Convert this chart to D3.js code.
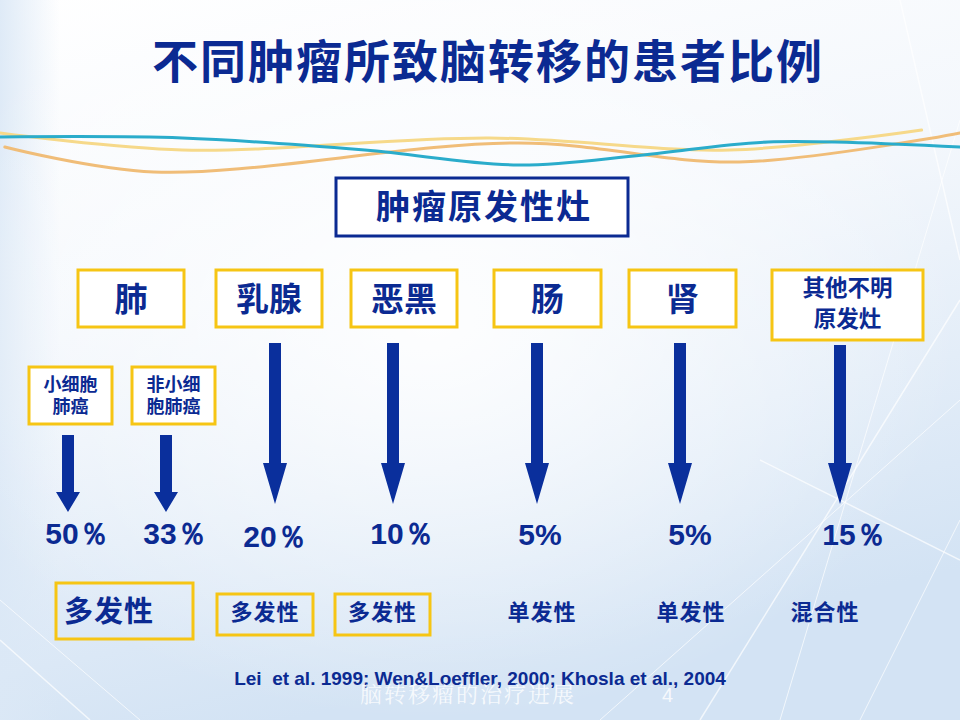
<!DOCTYPE html>
<html>
<head>
<meta charset="utf-8">
<script src="https://cdn.jsdelivr.net/npm/d3@7"></script>
<style>
  html, body { margin: 0; padding: 0; background: #fff; }
  svg { display: block; }
</style>
</head>
<body>
<div id="host"><svg><defs></defs></svg></div>
<script>
const WIDTH = 960;
const HEIGHT = 720;

const NAVY = "#0b2a92";
const ARROW = "#0a2f9c";
const YELLOW = "#f6c514";
const CJK = "'Noto Sans CJK SC', 'Noto Sans', sans-serif";
const LATIN = "'Liberation Sans', Arial, sans-serif";

// chart content
const TITLE = "不同肿瘤所致脑转移的患者比例";
const ROOT = "肿瘤原发性灶";
const SITES = ["肺", "乳腺", "恶黑", "肠", "肾", "其他不明\n原发灶"];
const LUNG_TYPES = ["小细胞\n肺癌", "非小细\n胞肺癌"];
const GROUPS = ["小细胞肺癌", "非小细胞肺癌", "乳腺", "恶黑", "肠", "肾", "其他"];
const PERCENTS = ["50％", "33％", "20％", "10％", "5%", "5%", "15％"];
const PATTERNS = ["多发性", "多发性", "多发性", "单发性", "单发性", "混合性"];
const PATTERN_BOXED = [true, true, true, false, false, false];
const CITATION = "Lei  et al. 1999; Wen&Loeffler, 2000; Khosla et al., 2004";
const FOOTER = "脑转移瘤的治疗进展";
const PAGE = "4";

// layout scales
const siteX = d3.scaleOrdinal().domain(SITES).range([78, 216, 351, 494, 629, 772]);
const siteW = d3.scaleOrdinal().domain(SITES).range([106, 106, 106, 107, 107, 151]);
const lungX = d3.scaleOrdinal().domain(LUNG_TYPES).range([29, 132]);
const arrowX = d3.scaleOrdinal().domain(GROUPS).range([68, 166, 275, 393, 537, 680, 840]);
const arrowTop = d3.scaleOrdinal().domain(GROUPS).range([435, 435, 343, 343, 343, 343, 345]);
const pctX = d3.scaleOrdinal().domain(GROUPS).range([77, 175, 275, 402, 540, 690, 854]);
const pctY = d3.scaleOrdinal().domain(GROUPS).range([544, 544, 547, 544, 545, 545, 545]);
const patX = d3.scaleOrdinal().domain(d3.range(PATTERNS.length)).range([56, 217, 335, 542, 691, 825]);
const patW = d3.scaleOrdinal().domain(d3.range(PATTERNS.length)).range([137, 96, 95, 0, 0, 0]);

// decorative ribbons (relative control points)
const waveX = d3.scaleLinear().domain([0, 1]).range([0, WIDTH]);
const waveY = d3.scaleLinear().domain([0, 1]).range([125, 175]);
const TEAL_WAVE = [[0, 0.24], [0.19, 0.26], [0.38, 0.5], [0.54, 0.8], [0.67, 0.6], [0.8, 0.34], [1, 0.44]];
const GOLD_WAVE = [[0, 0.16], [0.19, 0.5], [0.51, 0.26], [0.76, 0.5], [0.96, 0.1]];
const ORANGE_WAVE = [[0.005, 0.44], [0.16, 0.94], [0.54, 0.36], [0.77, 0.74], [1, 0.16]];

function setupSvg() {
  const svg = d3.select("#host svg").attr("width", WIDTH).attr("height", HEIGHT);
  const defs = svg.select("defs");

  const bg = defs.append("linearGradient").attr("id", "bg")
    .attr("x1", "0%").attr("y1", "0%").attr("x2", "30%").attr("y2", "100%");
  bg.append("stop").attr("offset", "0%").attr("stop-color", "#ffffff");
  bg.append("stop").attr("offset", "45%").attr("stop-color", "#f3f7fc");
  bg.append("stop").attr("offset", "100%").attr("stop-color", "#d3e3f4");

  const glow = defs.append("radialGradient").attr("id", "glow")
    .attr("cx", "45%").attr("cy", "45%").attr("r", "55%");
  glow.append("stop").attr("offset", "0%").attr("stop-color", "#ffffff").attr("stop-opacity", 0.9);
  glow.append("stop").attr("offset", "100%").attr("stop-color", "#ffffff").attr("stop-opacity", 0);

  const side = defs.append("linearGradient").attr("id", "side")
    .attr("x1", "0%").attr("y1", "0%").attr("x2", "100%").attr("y2", "0%");
  side.append("stop").attr("offset", "0%").attr("stop-color", "#dbe8f6").attr("stop-opacity", 0.9);
  side.append("stop").attr("offset", "100%").attr("stop-color", "#dbe8f6").attr("stop-opacity", 0);

  svg.append("rect").attr("width", WIDTH).attr("height", HEIGHT).attr("fill", "url(#bg)");
  svg.append("rect").attr("width", 60).attr("height", HEIGHT).attr("fill", "url(#side)");
  svg.append("rect").attr("width", WIDTH).attr("height", HEIGHT).attr("fill", "url(#glow)");

  // faint network lines on the right
  const net = svg.append("g").attr("stroke", "#ffffff").attr("stroke-opacity", 0.7).attr("fill", "none");
  const NET = [[[900, 0], [960, 260]], [[960, 120], [780, 720]], [[960, 300], [700, 720]],
               [[860, 720], [960, 520]], [[760, 460], [960, 560]], [[960, 400], [600, 720]],
               [[0, 640], [90, 720]], [[0, 600], [140, 720]]];
  net.selectAll("line").data(NET).join("line")
    .attr("x1", (d) => d[0][0]).attr("y1", (d) => d[0][1])
    .attr("x2", (d) => d[1][0]).attr("y2", (d) => d[1][1])
    .attr("stroke-width", (d, i) => (i % 2 ? 1 : 1.5));
  return svg;
}

function drawWaves(svg) {
  const line = d3.line().x((d) => waveX(d[0])).y((d) => waveY(d[1])).curve(d3.curveCatmullRom);
  const g = svg.append("g").attr("fill", "none").attr("stroke-linecap", "round");
  g.append("path").attr("d", line(GOLD_WAVE)).attr("stroke", "#f6d98a").attr("stroke-width", 3);
  g.append("path").attr("d", line(ORANGE_WAVE)).attr("stroke", "#f0bd78").attr("stroke-width", 3);
  g.append("path").attr("d", line(TEAL_WAVE)).attr("stroke", "#2aaccb").attr("stroke-width", 3);
}

function multiText(sel, text, x, y, lineH) {
  const lines = text.split("\n");
  const t = sel.append("text").attr("x", x).attr("text-anchor", "middle");
  lines.forEach((s, i) => {
    t.append("tspan").attr("x", x).attr("y", y + (i - (lines.length - 1) / 2) * lineH).text(s);
  });
  return t;
}

function draw(svg) {
  svg.append("text")
    .attr("x", 488).attr("y", 78)
    .attr("text-anchor", "middle")
    .attr("font-family", CJK).attr("font-weight", 700).attr("font-size", 46)
    .attr("letter-spacing", 2)
    .attr("fill", NAVY)
    .text(TITLE);

  drawWaves(svg);

  // root box
  svg.append("rect").attr("x", 336).attr("y", 178).attr("width", 292).attr("height", 58)
    .attr("fill", "#fff").attr("stroke", NAVY).attr("stroke-width", 3);
  svg.append("text").attr("x", 484).attr("y", 219).attr("text-anchor", "middle")
    .attr("font-family", CJK).attr("font-weight", 700).attr("font-size", 34)
    .attr("letter-spacing", 2).attr("fill", NAVY).text(ROOT);

  // site boxes
  const sites = svg.append("g").selectAll("g").data(SITES).join("g");
  sites.append("rect")
    .attr("x", (d) => siteX(d)).attr("y", 270)
    .attr("width", (d) => siteW(d))
    .attr("height", (d) => (d.includes("\n") ? 70 : 57))
    .attr("fill", "#fff").attr("stroke", YELLOW).attr("stroke-width", 3);
  sites.each(function (d) {
    const cx = siteX(d) + siteW(d) / 2;
    const multi = d.includes("\n");
    multiText(d3.select(this), d, cx, 311, 31)
      .attr("font-family", CJK).attr("font-weight", 700)
      .attr("font-size", multi ? 22.5 : 33).attr("fill", NAVY);
  });

  // lung subtypes
  const lung = svg.append("g").selectAll("g").data(LUNG_TYPES).join("g");
  lung.append("rect")
    .attr("x", (d) => lungX(d)).attr("y", 367).attr("width", 83).attr("height", 57)
    .attr("fill", "#fff").attr("stroke", YELLOW).attr("stroke-width", 3);
  lung.each(function (d) {
    multiText(d3.select(this), d, lungX(d) + 41.5, 402, 22)
      .attr("font-family", CJK).attr("font-weight", 700)
      .attr("font-size", 18).attr("fill", NAVY);
  });

  // arrows
  const HEAD_BASE = 463, TIP = 504, SHORT_BASE = 492, SHORT_TIP = 512;
  svg.append("g").selectAll("path").data(GROUPS).join("path")
    .attr("d", (d, i) => {
      const x = arrowX(d), top = arrowTop(d);
      const base = i < 2 ? SHORT_BASE : HEAD_BASE;
      const tip = i < 2 ? SHORT_TIP : TIP;
      const sw = 6, hw = 12;
      return `M${x - sw},${top}L${x + sw},${top}L${x + sw},${base}L${x + hw},${base}` +
        `L${x},${tip}L${x - hw},${base}L${x - sw},${base}Z`;
    })
    .attr("fill", ARROW);

  // percentages
  svg.append("g").selectAll("text").data(GROUPS).join("text")
    .attr("x", (d) => pctX(d)).attr("y", (d) => pctY(d))
    .attr("text-anchor", "middle")
    .attr("font-family", LATIN).attr("font-weight", 700).attr("font-size", 30)
    .attr("fill", NAVY)
    .text((d, i) => PERCENTS[i]);

  // metastasis pattern
  const pat = svg.append("g").selectAll("g").data(PATTERNS).join("g");
  pat.filter((d, i) => PATTERN_BOXED[i]).append("rect")
    .attr("x", (d, i) => patX(i))
    .attr("y", (d, i) => (i === 0 ? 583 : 594))
    .attr("width", (d, i) => patW(i))
    .attr("height", (d, i) => (i === 0 ? 56 : 41))
    .attr("fill", "none").attr("stroke", YELLOW).attr("stroke-width", 3);
  pat.append("text")
    .attr("x", (d, i) => (i === 0 ? patX(i) + 8 : PATTERN_BOXED[i] ? patX(i) + patW(i) / 2 : patX(i)))
    .attr("y", (d, i) => (i === 0 ? 622 : 620))
    .attr("text-anchor", (d, i) => (i === 0 ? "start" : "middle"))
    .attr("font-family", CJK).attr("font-weight", 700)
    .attr("font-size", (d, i) => (i === 0 ? 29 : 22))
    .attr("letter-spacing", 1)
    .attr("fill", NAVY)
    .text((d) => d);

  // citation + footer
  svg.append("text").attr("x", 480).attr("y", 685).attr("text-anchor", "middle")
    .style("white-space", "pre")
    .attr("font-family", LATIN).attr("font-weight", 700).attr("font-size", 19)
    .attr("fill", NAVY).text(CITATION);
  svg.append("text").attr("x", 360).attr("y", 702)
    .attr("font-family", "'Noto Serif CJK SC', " + CJK).attr("font-size", 22)
    .attr("fill", "#ffffff").attr("fill-opacity", 0.8).attr("letter-spacing", 2).text(FOOTER);
  svg.append("text").attr("x", 662).attr("y", 702)
    .attr("font-family", LATIN).attr("font-size", 20)
    .attr("fill", "#ffffff").attr("fill-opacity", 0.8).text(PAGE);
}

const svg = setupSvg();
draw(svg);
</script>
</body>
</html>
